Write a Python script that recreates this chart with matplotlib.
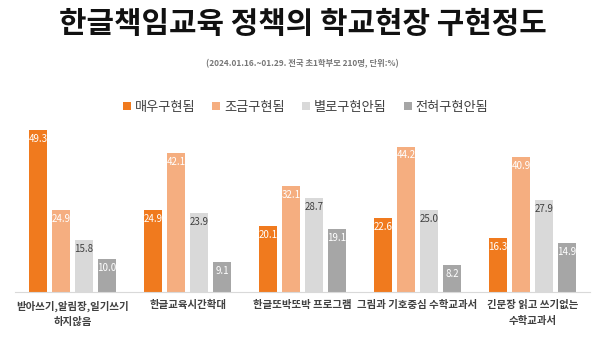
import numpy as np
import matplotlib
matplotlib.use("Agg")
from matplotlib import pyplot as plt

plt.rcParams['font.family'] = ['Noto Sans CJK KR', 'DejaVu Sans']

categorias = ["받아쓰기,알림장,일기쓰기\n하지않음", "한글교육시간확대", "한글또박또박 프로그램",
              "그림과 기호중심 수학교과서", "긴문장 읽고 쓰기없는\n수학교과서"]
series = ["매우구현됨", "조금구현됨", "별로구현안됨", "전혀구현안됨"]
매우 = [49.3, 24.9, 20.1, 22.6, 16.3]
조금 = [24.9, 42.1, 32.1, 44.2, 40.9]
별로 = [15.8, 23.9, 28.7, 25.0, 27.9]
전혀 = [10.0, 9.1, 19.1, 8.2, 14.9]
valores = [매우, 조금, 별로, 전혀]

colores = ["#F07A1E", "#F5AE80", "#D9D9D9", "#A6A6A6"]
color_texto = ["white", "white", "#404040", "white"]

fig = plt.figure(figsize=(6.05, 3.63), dpi=100)
ax = fig.add_axes([0.025, 0.1956, 0.95, 0.4986])

x = np.arange(len(categorias))
ancho = 0.157
paso = 0.2
for i in range(len(series)):
    pos = x + (i - 1.5) * paso
    ax.bar(pos, valores[i], width=ancho, color=colores[i], label=series[i])
    for xx, v in zip(pos, valores[i]):
        ax.text(xx, v - 1.2, f"{v:.1f}", ha="center", va="top", fontsize=7,
                color=color_texto[i])

ax.set_xlim(-0.5, len(categorias) - 0.5)
ax.set_ylim(0, 55)
ax.set_yticks([])
ax.set_xticks(x)
ax.set_xticklabels(categorias, fontsize=7.5, color="#404040", fontweight="bold",
                   linespacing=1.7)
ax.tick_params(axis="x", length=0, pad=6)
for s in ["top", "right", "left"]:
    ax.spines[s].set_visible(False)
ax.spines["bottom"].set_color("#D9D9D9")

fig.text(0.5, 0.935, "한글책임교육 정책의 학교현장 구현정도", ha="center", va="center",
         fontsize=21.5, fontweight="bold", color="#111111")
fig.text(0.5, 0.826, "(2024.01.16.~01.29. 전국 초1학부모 210명, 단위:%)", ha="center",
         va="center", fontsize=6, color="#777777", fontweight="bold")

fig.legend(loc="center", bbox_to_anchor=(0.505, 0.705), ncol=4, frameon=False,
           fontsize=9.5, handlelength=0.6, handleheight=0.6, handletextpad=0.3,
           columnspacing=1.3, labelcolor="#404040")

fig.savefig("out.png", dpi=100)
